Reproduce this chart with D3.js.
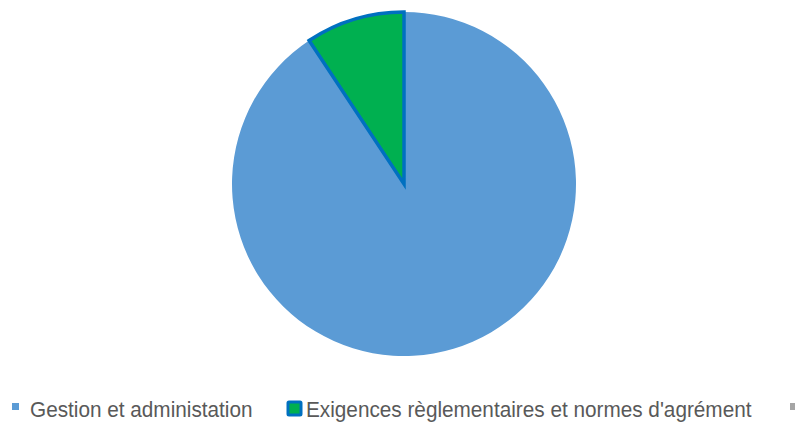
<!DOCTYPE html>
<html>
<head>
<meta charset="utf-8">
<script src="https://cdn.jsdelivr.net/npm/d3@7"></script>
<style>
  body { margin: 0; background: #fff; }
  svg { display: block; font-family: "Liberation Sans", Arial, sans-serif; }
</style>
</head>
<body>
<svg id="svg" width="795" height="423"></svg>
<script>
const categories = ['Gestion et administation', "Exigences règlementaires et normes d'agrément", ''];
const values = [90.7, 9.3, 0];
const colors = ['#5B9BD5', '#00B050', '#A5A5A5'];

const svg = d3.select('#svg');
const cx = 404, cy = 184, r = 172;

const pie = d3.pie().sort(null).value(d => d.v);
const data = pie(categories.map((c, i) => ({ c, v: values[i], i })));
const arc = d3.arc().innerRadius(0).outerRadius(r);

const g = svg.append('g').attr('transform', `translate(${cx},${cy})`);
g.selectAll('path').data(data.filter(d => d.data.v > 0)).join('path')
  .attr('d', arc)
  .attr('fill', d => colors[d.data.i])
  .attr('stroke', d => d.data.i === 1 ? '#0070C0' : 'none')
  .attr('stroke-width', 3.5)
  .attr('stroke-linejoin', 'miter');

// legend
const leg = svg.append('g').attr('font-size', 22).attr('fill', '#595959');
const items = [
  { x: 12, w: 7, tx: 30 },
  { x: 288, w: 13, tx: 306 },
  { x: 790, w: 7, tx: 808 }
];
const sx = 0.943;
items.forEach((it, i) => {
  if (i === 1) {
    leg.append('rect').attr('x', it.x).attr('y', 402).attr('width', it.w).attr('height', it.w)
      .attr('fill', colors[i]).attr('stroke', '#0070C0').attr('stroke-width', 3).attr('rx', 1);
  } else {
    leg.append('rect').attr('x', it.x).attr('y', 403).attr('width', it.w).attr('height', it.w)
      .attr('fill', colors[i]);
  }
  leg.append('text').attr('transform', `translate(${it.tx},417) scale(${sx},1)`).text(categories[i]);
});
</script>
</body>
</html>
